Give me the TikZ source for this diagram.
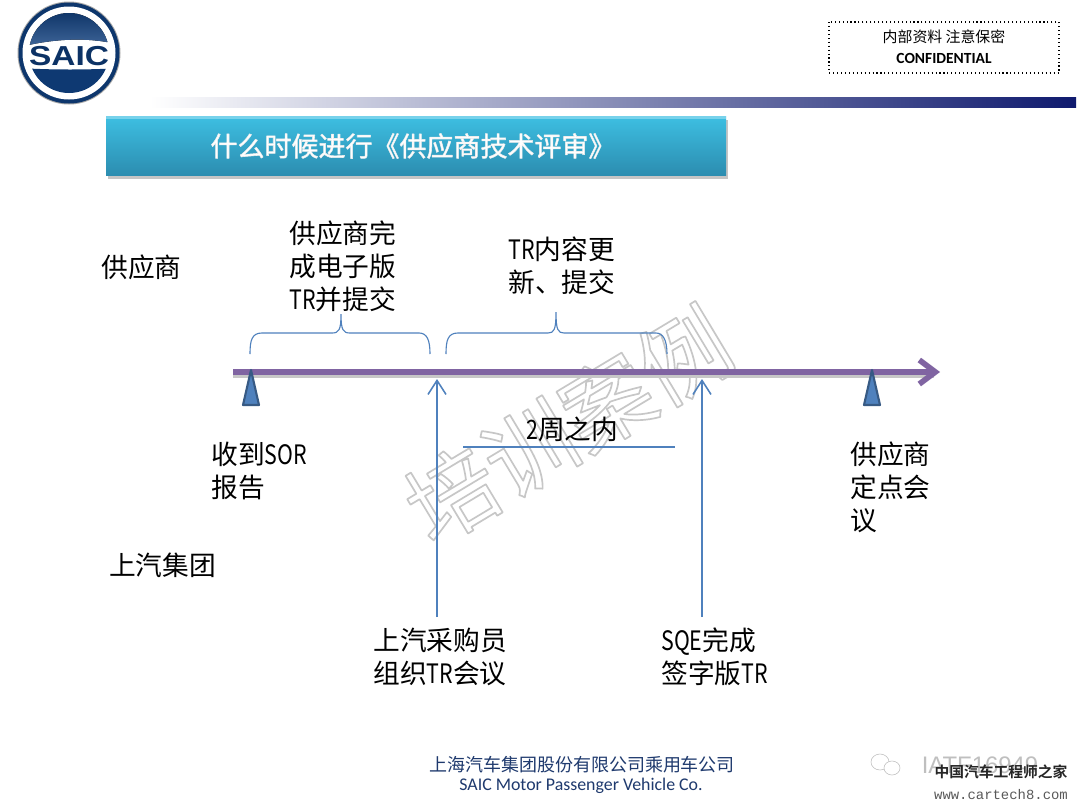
\documentclass[tikz,border=0pt]{standalone}
\usepackage{fontspec}
\usetikzlibrary{arrows.meta,shadows}
\newfontfamily\cjk[RawFeature=-chws]{Noto Sans CJK SC}
\newfontfamily\cjkb{Noto Sans CJK SC Bold}
\newfontfamily\latn[FakeStretch=.8]{Noto Sans CJK SC}
\newfontfamily\carlito{Carlito}
\newfontfamily\mono{Liberation Mono}
\newfontfamily\logofont[FakeStretch=1.22]{Liberation Sans Bold}
\definecolor{saicblue}{HTML}{0F3F7F}
\definecolor{barblue}{HTML}{0F1A6E}
\definecolor{linkblue}{HTML}{4F81BD}
\definecolor{axispurple}{HTML}{8064A2}
\definecolor{footblue}{HTML}{1F3A6E}
\definecolor{titletop}{HTML}{3DBFE2}
\definecolor{titlebot}{HTML}{2C8DB0}
\tikzset{
	lbl/.style={anchor=west,align=left,inner sep=0pt,font=\cjk\fontsize{19}{23.5}\selectfont},
	link/.style={draw=linkblue,line width=.8pt},
	upar/.style={link,line width=1.1pt,-{Straight Barb[length=3.5mm,width=4.5mm]}},
}
\begin{document}
\begin{tikzpicture}[x=.025cm,y=-.025cm,line join=round]
	\useasboundingbox (0,0) rectangle (1080,810);
	\fill[white] (0,0) rectangle (1080,810);
	%logo
	\fill[black!35] (69,53) circle (51.5);
	\fill[saicblue!85!black] (69,53) circle (50.5);
	\fill[white] (69,53) circle (46.5);
	\begin{scope}
		\clip (69,53) circle (40);
		\fill[top color=saicblue!80!black,bottom color=saicblue!80!white] (20,10)--(120,10)--(120,45)..controls (95,38) and (60,37) .. (20,47)--cycle;
		\fill[saicblue!90!black] (20,68)..controls (50,70) and (90,70) .. (120,68)--(120,100)--(20,100)--cycle;
	\end{scope}
	\node (saic) at (69,56) [inner sep=0pt,text=saicblue!80!black,font=\logofont\fontsize{19.5}{20}\selectfont]{SAIC};
	%bar
	\fill[left color=white,right color=barblue,middle color=barblue!50!white] (150,97) rectangle (1076,107);
	%confidential
	\draw[dotted,thick] (829,22) rectangle (1059,73);
	\node (conf1) at (944,37) [inner sep=0pt,font=\cjk\fontsize{10.6}{12}\selectfont]{内部资料 注意保密};
	\node (conf2) at (944,58) [inner sep=0pt,font=\carlito\bfseries\fontsize{11}{12}\selectfont]{CONFIDENTIAL};
	%title
	\fill[top color=titletop,bottom color=titlebot,drop shadow={opacity=.45,shadow xshift=.4mm,shadow yshift=-1mm}] (106,116) rectangle (726,175);
	\fill[titletop!70!white] (106,116) rectangle (726,119);
	\node (title) at (413,146) [inner sep=0pt,text=white,font=\cjk\fontsize{19.2}{22}\selectfont]{\special{pdf:code 2 Tr 0.4 w 0.93 G}什么时候进行《供应商技术评审》\special{pdf:code 0 Tr}};
	%watermark
	\node (wm) at (568,425) [rotate=31,inner sep=0pt,text=white,font=\cjk\fontsize{64}{70}\selectfont]{\special{pdf:code 2 Tr 1.2 w 0.78 G}培训案例\special{pdf:code 0 Tr}};
	%axis
	\draw[black!22,line width=3.5pt] (233,376)--(934,376);
	\draw[axispurple,line width=4pt,-{Straight Barb[length=4mm,width=6mm]}] (233,372)--(940,372);
	\foreach \x in {251,872} \filldraw[fill=linkblue,draw=linkblue!70!black,line width=1.5pt] (\x,370)--(\x+8,405)--(\x-8,405)--cycle;
	%braces
	\draw[link] (250,354)..controls (250,340) and (252,333) .. (262,333)--(332,333)..controls (339,333) and (341,330) .. (341,314)
		(341,314)..controls (341,330) and (343,333) .. (350,333)--(419,333)..controls (427,333) and (430,340) .. (430,354);
	\draw[link] (446,354)..controls (446,340) and (448,333) .. (458,333)--(548,333)..controls (554,333) and (556,330) .. (556,312)
		(556,312)..controls (556,330) and (558,333) .. (564,333)--(656,333)..controls (663,333) and (667,340) .. (667,354);
	%arrows
	\coordinate (buyfrom) at (437,617);
	\coordinate (buyto) at (437,379);
	\coordinate (sqefrom) at (702,617);
	\coordinate (sqeto) at (702,379);
	\coordinate (weekl) at (463,447);
	\coordinate (weekr) at (675,447);
	\draw[upar] (buyfrom)--(buyto);
	\draw[upar] (sqefrom)--(sqeto);
	\draw[link,line width=1pt] (weekl)--(weekr);
	%labels
	\node (sup) at (101,267) [lbl]{供应商};
	\node (done) at (289,266) [lbl]{供应商完\\成电子版\\{\latn TR}并提交};
	\node (upd) at (508,266) [lbl]{{\latn TR}内容更\\新、提交};
	\node (week) at (526,429) [lbl]{{\latn 2}周之内};
	\node (sor) at (211,471) [lbl]{收到{\latn SOR}\\报告};
	\node (fix) at (850,487) [lbl]{供应商\\定点会\\议};
	\node (grp) at (109,565) [lbl]{上汽集团};
	\node (buy) at (373,657) [lbl]{上汽采购员\\组织{\latn TR}会议};
	\node (sqe) at (661,657) [lbl]{{\latn SQE}完成\\签字版{\latn TR}};
	%footer
	\node (foot1) at (582,765) [inner sep=0pt,text=footblue,font=\cjk\fontsize{12.8}{14}\selectfont]{上海汽车集团股份有限公司乘用车公司};
	\node (foot2) at (581,786) [inner sep=0pt,text=footblue,font=\carlito\fontsize{12.7}{14}\selectfont]{SAIC Motor Passenger Vehicle Co.};
	%wechat mark
	\draw[black!25,fill=white] (880,762) ellipse (9 and 8);
	\draw[black!25,fill=white] (892,768) ellipse (8 and 7);
	\node (iatf) at (980,765) [inner sep=0pt,text=black!25,font=\fontspec{Liberation Sans}\fontsize{17}{18}\selectfont]{IATF16949};
	\node (home) at (1001,772) [inner sep=0pt,text=black!85,font=\cjkb\fontsize{10.5}{12}\selectfont]{中国汽车工程师之家};
	\node (web) at (1001,795) [inner sep=0pt,text=black!65,font=\mono\fontsize{9.9}{12}\selectfont]{www.cartech8.com};
\end{tikzpicture}
\end{document}
